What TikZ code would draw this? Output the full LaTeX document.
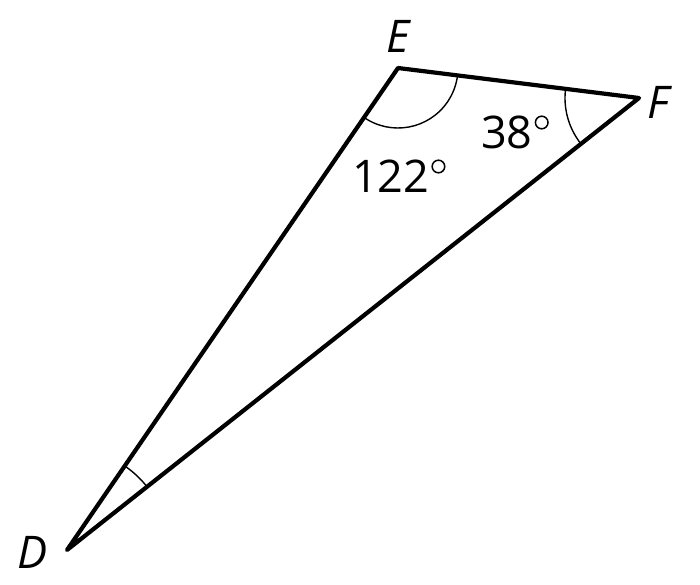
\documentclass[tikz,border=0pt]{standalone}
\usepackage{fontspec}
\setmainfont{Open Sans}
\usetikzlibrary{angles}
\newcommand{\degsign}{\hspace{2pt}\tikz[baseline=0pt, x=1pt, y=1pt]{\draw[line width=1.5pt] (6.5,26.5) circle[radius=6.3pt]; \path (0,0) (13,0);}}
\begin{document}
\begin{tikzpicture}[x=1pt,y=-1pt,
  side/.style={line width=4.2pt, line cap=round, line join=round},
  anglearc/.style={draw, line width=1.4pt},
  lbl/.style={font=\fontsize{45}{50}\selectfont, inner sep=0pt}]
\useasboundingbox (0,0) rectangle (700,585);
\coordinate (E) at (398,68);
\coordinate (F) at (639,98);
\coordinate (D) at (67,550);
\draw[side] (D) -- (E) -- (F) -- cycle;
\pic[anglearc, angle radius=60pt] {angle = D--E--F};
\pic[anglearc, angle radius=74pt] {angle = E--F--D};
\pic[anglearc, angle radius=102pt] {angle = F--D--E};
\node[lbl, font=\fontsize{45}{50}\selectfont\itshape] (lE) at (398,36) {E};
\node[lbl, font=\fontsize{45}{50}\selectfont\itshape] (lF) at (658,102) {F};
\node[lbl, font=\fontsize{45}{50}\selectfont\itshape] (lD) at (33,552) {D};
\node[lbl, anchor=base west] (a122) at (352,193) {122\degsign};
\node[lbl, anchor=base west] (a38) at (481,149) {38\degsign};
\end{tikzpicture}
\end{document}
